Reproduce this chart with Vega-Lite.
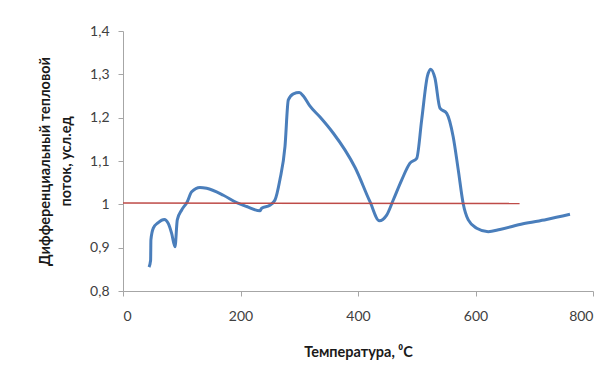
{
  "$schema": "https://vega.github.io/schema/vega-lite/v6.json",
  "width": 470,
  "height": 260,
  "autosize": {"type": "none"},
  "padding": {"left": 123, "top": 31, "right": 23, "bottom": 85},
  "background": "white",
  "config": {
    "view": {"stroke": null},
    "font": "Lato",
    "axis": {
      "grid": false,
      "domainColor": "#a6a6a6",
      "tickColor": "#a6a6a6",
      "labelColor": "#404040",
      "labelFont": "Lato",
      "labelFontSize": 14,
      "titleFont": "Lato",
      "titleFontSize": 14.5,
      "titleFontWeight": "bold",
      "titleColor": "#1a1a1a"
    }
  },
  "data": {
    "values": [
      {"s": "curve", "t": 44.3, "v": 0.855},
      {"s": "curve", "t": 47, "v": 0.871},
      {"s": "curve", "t": 47.5, "v": 0.918},
      {"s": "curve", "t": 51.6, "v": 0.945},
      {"s": "curve", "t": 60, "v": 0.958},
      {"s": "curve", "t": 70.3, "v": 0.965},
      {"s": "curve", "t": 77, "v": 0.956},
      {"s": "curve", "t": 82.8, "v": 0.933},
      {"s": "curve", "t": 88.5, "v": 0.902},
      {"s": "curve", "t": 92.4, "v": 0.964},
      {"s": "curve", "t": 99.9, "v": 0.987},
      {"s": "curve", "t": 109.5, "v": 1.006},
      {"s": "curve", "t": 116.9, "v": 1.029},
      {"s": "curve", "t": 131, "v": 1.039},
      {"s": "curve", "t": 142.4, "v": 1.037},
      {"s": "curve", "t": 170.8, "v": 1.021},
      {"s": "curve", "t": 193.5, "v": 1.004},
      {"s": "curve", "t": 210.5, "v": 0.995},
      {"s": "curve", "t": 233, "v": 0.985},
      {"s": "curve", "t": 236, "v": 0.991},
      {"s": "curve", "t": 250, "v": 0.998},
      {"s": "curve", "t": 258.7, "v": 1.01},
      {"s": "curve", "t": 267, "v": 1.056},
      {"s": "curve", "t": 275.7, "v": 1.133},
      {"s": "curve", "t": 281.4, "v": 1.241},
      {"s": "curve", "t": 290, "v": 1.255},
      {"s": "curve", "t": 300, "v": 1.258},
      {"s": "curve", "t": 307, "v": 1.25},
      {"s": "curve", "t": 318, "v": 1.227},
      {"s": "curve", "t": 335, "v": 1.202},
      {"s": "curve", "t": 358, "v": 1.164},
      {"s": "curve", "t": 378, "v": 1.125},
      {"s": "curve", "t": 395, "v": 1.085},
      {"s": "curve", "t": 420.4, "v": 1.006},
      {"s": "curve", "t": 436.3, "v": 0.962},
      {"s": "curve", "t": 448.8, "v": 0.975},
      {"s": "curve", "t": 460, "v": 1.01},
      {"s": "curve", "t": 474.3, "v": 1.056},
      {"s": "curve", "t": 488.5, "v": 1.095},
      {"s": "curve", "t": 499.9, "v": 1.106},
      {"s": "curve", "t": 508.4, "v": 1.195},
      {"s": "curve", "t": 518, "v": 1.295},
      {"s": "curve", "t": 523.7, "v": 1.312},
      {"s": "curve", "t": 531, "v": 1.291},
      {"s": "curve", "t": 539.5, "v": 1.222},
      {"s": "curve", "t": 551, "v": 1.21},
      {"s": "curve", "t": 562, "v": 1.156},
      {"s": "curve", "t": 570.7, "v": 1.079},
      {"s": "curve", "t": 579, "v": 1.002},
      {"s": "curve", "t": 587.7, "v": 0.964},
      {"s": "curve", "t": 602, "v": 0.945},
      {"s": "curve", "t": 621.7, "v": 0.937},
      {"s": "curve", "t": 641.6, "v": 0.942},
      {"s": "curve", "t": 681, "v": 0.955},
      {"s": "curve", "t": 721, "v": 0.965},
      {"s": "curve", "t": 760.8, "v": 0.977},
      {"s": "base", "t": 0, "v": 1.003},
      {"s": "base", "t": 675, "v": 1.002}
    ]
  },
  "mark": {"type": "line", "interpolate": "monotone", "clip": false},
  "encoding": {
    "x": {
      "field": "t",
      "type": "quantitative",
      "scale": {"domain": [0, 800], "nice": false, "zero": false},
      "axis": {
        "values": [0, 200, 400, 600, 800],
        "title": "Температура, ⁰C",
        "titlePadding": 22,
        "tickSize": 5,
        "labelPadding": 13
      }
    },
    "y": {
      "field": "v",
      "type": "quantitative",
      "scale": {"domain": [0.8, 1.4], "nice": false, "zero": false},
      "axis": {
        "values": [0.8, 0.9, 1.0, 1.1, 1.2, 1.3, 1.4],
        "labelExpr": "replace(format(datum.value, '.2~g'), '.', ',')",
        "title": ["Дифференциальный тепловой", "поток,  усл.ед"],
        "titleLineHeight": 21,
        "titlePadding": 16,
        "tickSize": 5,
        "labelPadding": 9
      }
    },
    "color": {
      "field": "s",
      "type": "nominal",
      "scale": {"domain": ["curve", "base"], "range": ["#4a7ebb", "#be4b48"]},
      "legend": null
    },
    "strokeWidth": {
      "field": "s",
      "type": "nominal",
      "scale": {"domain": ["curve", "base"], "range": [3, 1.5]},
      "legend": null
    }
  }
}
